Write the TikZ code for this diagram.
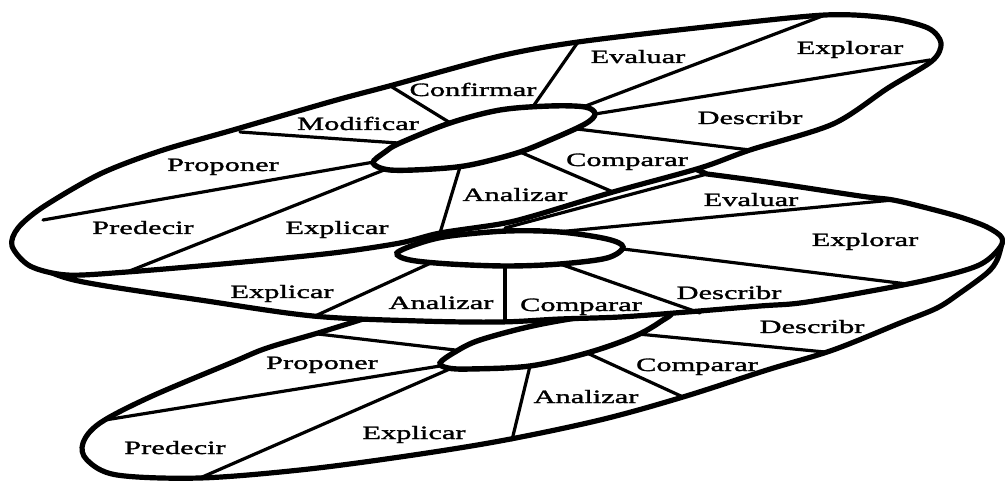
\documentclass[tikz,border=0pt]{standalone}
\usepackage{fontspec}
\newfontfamily\lblfont[FakeStretch=1.62,FakeBold=1.6]{Liberation Serif}
\begin{document}
\begin{tikzpicture}[x=1pt,y=-1pt,
  rim/.style={line width=5.2pt, fill=white, line join=round},
  spoke/.style={line width=3.2pt, line cap=round},
  hub/.style={line width=5.4pt, fill=white},
  lbl/.style={font=\lblfont\fontsize{18.8pt}{20pt}\selectfont, anchor=base, inner sep=0pt}]
\useasboundingbox (0,0) rectangle (1005,481);

% ---------- lowest turn ----------
\draw[rim] plot[smooth, tension=0.55] coordinates {(360,320) (318,333) (267,348) (233,362) (150,397) (100,423) (83,443) (87,460) (117,475) (200,478) (300,470) (400,457) (500,441) (600,420) (683,397) (767,370) (833,350) (900,323) (937,308) (960,293) (987,273) (997,260) (1002,243)}
  -- (990,240) -- (900,270) -- (700,300) -- (500,312) -- (380,314) -- cycle;
\draw[spoke] (318,334) -- (455,350);
\draw[spoke] (105,420) -- (440,366);
\draw[spoke] (200,478) -- (452,368);
\draw[spoke] (530,366) -- (512,440);
\draw[spoke] (587,353) -- (683,397);
\draw[spoke] (638,334) -- (825,352);
\draw[hub] plot[smooth cycle, tension=0.55] coordinates {(440,363) (455,352) (480,340) (537,325) (600,315) (668,312) (660,322) (633,337) (587,353) (530,366) (470,369) (448,368)};

% ---------- middle turn ----------
\draw[rim] plot[smooth, tension=0.55] coordinates {(30,262) (60,276) (100,285) (200,300) (313,316) (420,321) (500,322) (560,319) (620,317) (687,312) (760,306) (800,303) (860,293) (927,280) (977,266) (998,250) (1002,238) (987,227) (960,217) (927,208) (893,200) (860,196) (767,182) (707,174)}
  -- (650,150) -- (300,225) -- (100,250) -- cycle;
\draw[spoke] (505,228) -- (707,174);
\draw[spoke] (557,232) -- (893,200);
\draw[spoke] (623,249) -- (907,284);
\draw[spoke] (560,264) -- (700,313);
\draw[spoke] (505,266) -- (505,322);
\draw[spoke] (433,262) -- (313,317);
\draw[hub] plot[smooth cycle, tension=0.55] coordinates {(397,253) (420,243) (450,236) (507,231) (560,232) (607,239) (623,247) (607,258) (560,264) (507,266) (450,264) (410,260)};

% ---------- upper turn ----------
\draw[rim] plot[smooth cycle, tension=0.5] coordinates {(12,246) (18,228) (43,207) (100,174) (160,151) (233,130) (333,101) (393,85) (500,56) (578,42) (705,27) (825,15) (888,18) (928,28) (941,43) (932,61) (888,88) (833,124) (750,150) (700,168) (613,192) (533,216) (500,224) (440,233) (400,243) (333,253) (233,263) (127,272) (67,275) (30,266)};
\draw[spoke] (392,87) -- (452,124);
\draw[spoke] (240,132) -- (398,143);
\draw[spoke] (43,220) -- (374,162);
\draw[spoke] (384,170) -- (127,272);
\draw[spoke] (460,167) -- (440,233);
\draw[spoke] (520,152) -- (613,192);
\draw[spoke] (577,129) -- (750,150);
\draw[spoke] (595,114) -- (930,60);
\draw[spoke] (583,107) -- (825,15);
\draw[spoke] (532,108) -- (578,42);
\draw[hub] plot[smooth cycle, tension=0.55] coordinates {(373,163) (385,152) (400,143) (450,123) (500,110) (550,106) (585,107) (595,114) (585,124) (550,140) (517,153) (470,165) (433,169) (390,170)};

% ---------- labels ----------
\node[lbl] (t1) at (473,96) {Confirmar};
\node[lbl] (t2) at (638,63) {Evaluar};
\node[lbl] (t3) at (850,54) {Explorar};
\node[lbl] (t4) at (750,124) {Describr};
\node[lbl] (t5) at (627,166) {Comparar};
\node[lbl] (t6) at (515,201) {Analizar};
\node[lbl] (t7) at (337,234) {Explicar};
\node[lbl] (t8) at (143,234) {Predecir};
\node[lbl] (t9) at (223,171) {Proponer};
\node[lbl] (t10) at (358,130) {Modificar};

\node[lbl] (m1) at (751,206) {Evaluar};
\node[lbl] (m2) at (865,246) {Explorar};
\node[lbl] (m3) at (729,299) {Describr};
\node[lbl] (m4) at (581,311) {Comparar};
\node[lbl] (m5) at (441,309) {Analizar};
\node[lbl] (m6) at (282,298) {Explicar};

\node[lbl] (b1) at (812,333) {Describr};
\node[lbl] (b2) at (697,371) {Comparar};
\node[lbl] (b3) at (586,403) {Analizar};
\node[lbl] (b4) at (414,439) {Explicar};
\node[lbl] (b5) at (175,454) {Predecir};
\node[lbl] (b6) at (322,369) {Proponer};
\end{tikzpicture}
\end{document}
